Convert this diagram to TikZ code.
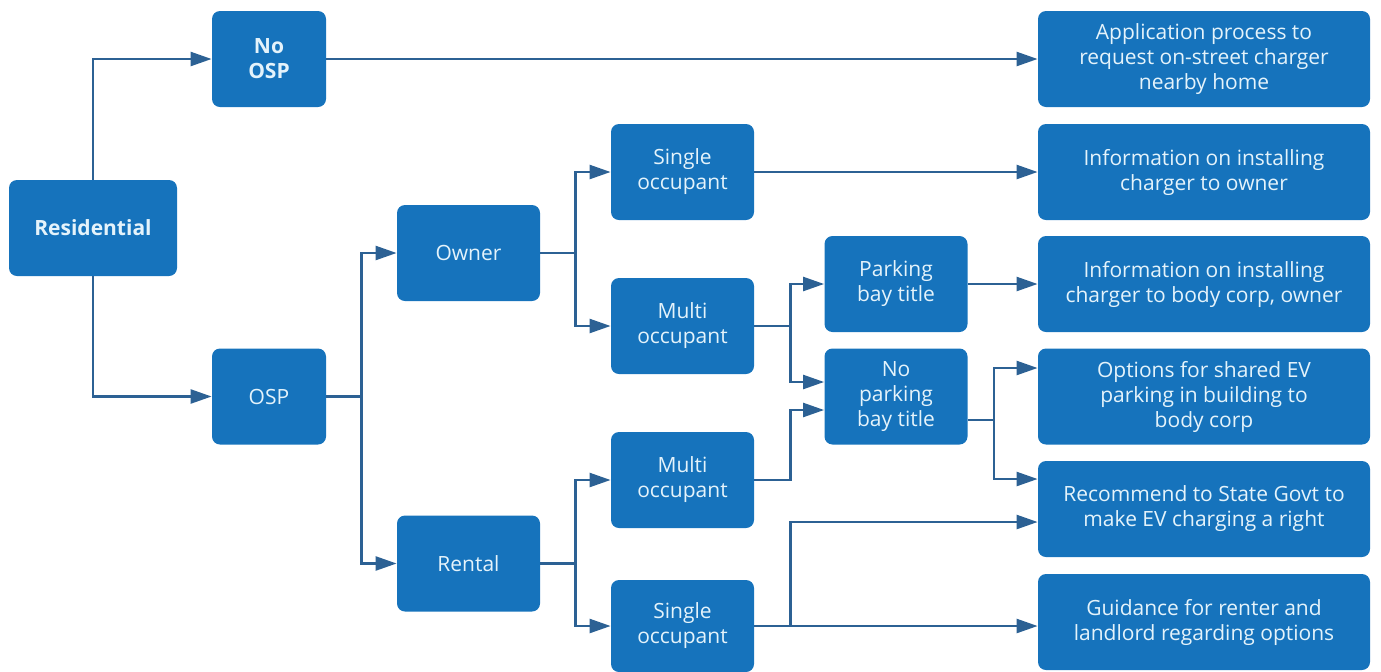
\documentclass[tikz,border=0pt]{standalone}
\usepackage{fontspec}
\setmainfont{Open Sans}
\usetikzlibrary{arrows.meta,calc}
\definecolor{boxblue}{HTML}{1673BC}
\definecolor{linecol}{HTML}{2C6194}
\definecolor{txtcol}{HTML}{E4F3FB}
\begin{document}
\begin{tikzpicture}[x=0.5pt,y=-0.5pt,
  box/.style={fill=boxblue,rounded corners=4pt,inner sep=0pt,align=center,
    text=txtcol,font=\fontsize{10.5}{12.5}\selectfont,minimum height=48pt},
  small/.style={box,minimum width=57pt},
  mid/.style={box,minimum width=71.5pt},
  wide/.style={box,minimum width=166pt},
  arr/.style={draw=linecol,line width=1.2pt,-{Triangle[length=10.5pt,width=7pt]}},
  ln/.style={draw=linecol,line width=1.2pt}]
\useasboundingbox (0,0) rectangle (1381,671);
% nodes
\node[box,minimum width=84pt,font=\fontsize{10.5}{12.5}\selectfont\bfseries] (res) at (93,228) {Residential};
\node[small,font=\fontsize{10.5}{12.5}\selectfont\bfseries] (nosp) at (269,59) {No\\OSP};
\node[small] (osp) at (269,396.5) {OSP};
\node[mid] (own) at (468.5,253) {Owner};
\node[mid] (ren) at (468.5,563.5) {Rental};
\node[mid] (so1) at (682.5,172) {Single\\occupant};
\node[mid] (mo1) at (682.5,326) {Multi\\occupant};
\node[mid] (mo2) at (682.5,480) {Multi\\occupant};
\node[mid,minimum height=46pt] (so2) at (682.5,626) {Single\\occupant};
\node[mid] (pb) at (896,284) {Parking\\bay title};
\node[mid] (np) at (896,396.5) {No\\parking\\bay title};
\node[wide] (app) at (1204,59) {Application process to\\request on-street charger\\nearby home};
\node[wide] (io) at (1204,172) {Information on installing\\charger to owner};
\node[wide] (ib) at (1204,284) {Information on installing\\charger to body corp, owner};
\node[wide] (opt) at (1204,396.5) {Options for shared EV\\parking in building to\\body corp};
\node[wide] (rec) at (1204,509) {Recommend to State Govt to\\make EV charging a right};
\node[wide] (gui) at (1204,622) {Guidance for renter and\\landlord regarding options};
% connectors
\draw[arr] (res.north) |- (nosp.west);
\draw[arr] (res.south) |- (osp.west);
\draw[arr] (nosp.east) -- (nosp.east -| app.west);
\draw[ln] (osp.east) -- ++(35,0) coordinate (b1);
\draw[arr] (b1) |- (own.west);
\draw[arr] (b1) |- (ren.west);
\draw[ln] (own.east) -- ++(35,0) coordinate (b2);
\draw[arr] (b2) |- (so1.west);
\draw[arr] (b2) |- (mo1.west);
\draw[arr] (so1.east) -- (so1.east -| io.west);
\draw[ln] (mo1.east) -- ++(36,0) coordinate (b3);
\draw[arr] (b3) |- (pb.west);
\draw[arr] (b3) |- ([yshift=7.25pt]np.west);
\draw[arr] (mo2.east) -- ++(36,0) |- ([yshift=-6.75pt]np.west);
\draw[arr] (pb.east) -- (pb.east -| ib.west);
\draw[ln] ([yshift=-11.75pt]np.east) -- ++(26,0) coordinate (b4);
\draw[arr] (b4) |- ([yshift=14.25pt]opt.west);
\draw[arr] (b4) |- ([yshift=15pt]rec.west);
\draw[ln] (ren.east) -- ++(35,0) coordinate (b5);
\draw[arr] (b5) |- (mo2.west);
\draw[arr] (b5) |- (so2.west);
\draw[arr] (so2.east) -- (so2.east -| gui.west);
\draw[ln] (so2.east) -- ++(36,0) coordinate (b6);
\draw[arr] (b6) |- ([yshift=-6.5pt]rec.west);
\end{tikzpicture}
\end{document}
